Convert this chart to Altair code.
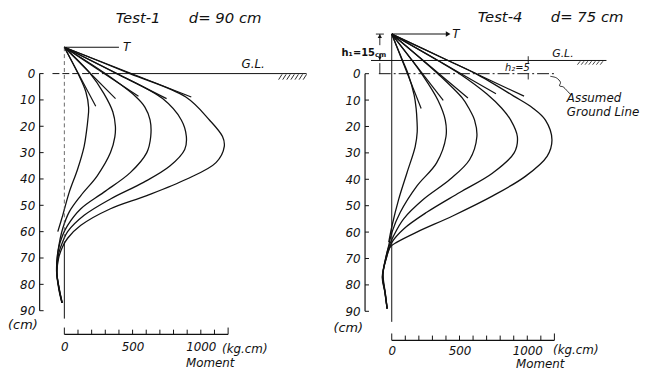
import altair as alt
import pandas as pd

# ---------------- data ----------------
NB = "\u00a0" * 6
T1_TITLE = "Test-1" + NB + "d= 90 cm"
T4_TITLE = "Test-4" + NB + "d= 75 cm"

# Test-1 : depth (cm) / bending moment (kg.cm) along each measured curve
T1_DEPTH = [
    [-10, 0, 7, 13, 17.6, 22, 27.6, 36.3, 45, 53.8, 60],
    [-10, 0, 7.6, 14.5, 20, 24, 30, 38.8, 46.3, 52.5, 58.8, 63, 68, 75, 82, 87],
    [-10, 0, 8.6, 12.7, 17.6, 23.9, 30, 37.6, 45, 51.3, 57.6, 61.3, 67, 75, 82, 87],
    [-10, 0, 9.5, 17.6, 23.9, 28.8, 35.1, 41.3, 47.6, 53.8, 60, 63.8, 68, 75, 82, 87],
    [-10, 0, 8.9, 17.6, 23.9, 27.6, 33.8, 40.1, 46.3, 51.3, 57.6, 62.5, 65.6, 70, 76, 82, 87],
]
T1_MOMENT = [
    [0, 100, 158, 178, 172, 162, 145, 97, 36, -12, -48],
    [0, 190, 290, 355, 374, 370, 338, 241, 121, 36, -12, -32, -48, -57, -40, -18],
    [0, 300, 520, 590, 628, 633, 604, 483, 290, 121, 24, -12, -45, -56, -38, -16],
    [0, 385, 720, 857, 894, 882, 773, 580, 338, 145, 24, -12, -40, -55, -37, -17],
    [0, 480, 890, 1063, 1159, 1172, 1111, 894, 604, 338, 121, 24, -12, -42, -54, -36, -15],
]
T1_TAN_END_D = [12.4, 9.5, 8.6, 9.5, 8.9]
T1_TAN_END_M = [230, 375, 543, 749, 930]

# Test-4
T4_DEPTH = [
    [-15, -5, 0, 8, 13.2, 17.6, 22, 27.6, 37.6, 47.6, 57.6, 63.8],
    [-15, -5, 0, 10, 17.6, 23.9, 33.8, 42.6, 52.5, 60, 65, 70, 76, 83, 89],
    [-15, -5, 0, 9.2, 13.2, 17.6, 23.9, 32.6, 40.1, 47.6, 55, 61.3, 65.6, 70, 76, 83, 89],
    [-15, -5, 0, 7.6, 13, 17.6, 23.9, 30, 37.6, 45, 52.5, 58.8, 63.8, 70, 77, 83, 89],
    [-15, -5, 0, 8.5, 13, 17.6, 25, 31.3, 38.8, 46.3, 53.8, 60, 63.8, 65.6, 70, 77, 83, 89],
]
T4_MOMENT = [
    [0, 80, 120, 165, 180, 186, 188, 173, 112, 51, 2, -22],
    [0, 150, 220, 340, 395, 400, 331, 185, 63, 2, -22, -45, -64, -48, -34],
    [0, 230, 340, 520, 570, 611, 628, 574, 428, 234, 88, 15, -22, -45, -66, -50, -34],
    [0, 340, 500, 700, 810, 878, 927, 903, 745, 501, 258, 88, 2, -42, -68, -48, -34],
    [0, 415, 620, 900, 1040, 1134, 1182, 1146, 988, 745, 453, 185, 39, -10, -40, -70, -50, -34],
]
T4_TAN_END_D = [13.2, 10.1, 9.2, 7.6, 8.5]
T4_TAN_END_M = [217, 380, 562, 769, 976]

DEPTH_TICKS = [0, 10, 20, 30, 40, 50, 60, 70, 80, 90]
MOMENT_LABELS = [0, 500, 1000]
MOMENT_TICKS = list(range(0, 1300, 100))

FONT = "DejaVu Sans"
INK = "#111111"


class Frame:
    """Shared scales and axes of one panel, reused by every layer."""

    def __init__(self, xdom, ydom, label_pad):
        self.xdom, self.ydom = xdom, ydom
        self.xs = alt.Scale(domain=xdom, nice=False, zero=False)
        self.ys = alt.Scale(domain=ydom, reverse=True, nice=False, zero=False)
        self.xaxis = alt.Axis(values=MOMENT_LABELS, format="d", domain=False,
                              ticks=False, grid=False, title=None, labelFont=FONT,
                              labelFontStyle="italic", labelFontSize=12,
                              labelColor=INK, labelPadding=label_pad,
                              labelOverlap=False)
        self.yaxis = alt.Axis(values=DEPTH_TICKS, format="d", domain=False,
                              ticks=False, grid=False, title=None, labelFont=FONT,
                              labelFontStyle="italic", labelFontSize=12,
                              labelColor=INK, labelPadding=5, labelOverlap=False)

    def x(self, f="m"):
        return alt.X(f"{f}:Q", scale=self.xs, axis=self.xaxis)

    def y(self, f="d"):
        return alt.Y(f"{f}:Q", scale=self.ys, axis=self.yaxis)

    def text(self, rows, size=12, align="center", baseline="middle",
             style="italic", weight="normal", dx=0):
        df = pd.DataFrame(rows, columns=["m", "d", "t"])
        return alt.Chart(df).mark_text(
            font=FONT, fontSize=size, fontStyle=style, fontWeight=weight,
            align=align, baseline=baseline, color=INK, dx=dx
        ).encode(x=self.x(), y=self.y(), text="t:N")

    def rules(self, rows, width=1.0, dash=None, color=INK):
        df = pd.DataFrame(rows, columns=["m", "d", "m2", "d2"])
        kw = dict(color=color, strokeWidth=width)
        if dash:
            kw["strokeDash"] = dash
        return alt.Chart(df).mark_rule(**kw).encode(
            x=self.x(), y=self.y(), x2="m2:Q", y2="d2:Q")

    def point(self, m, d, shape, size):
        df = pd.DataFrame({"m": [m], "d": [d]})
        return alt.Chart(df).mark_point(shape=shape, filled=True, size=size,
                                        color=INK, opacity=1).encode(
            x=self.x(), y=self.y())

    def line(self, df, width=1.3, interp="catmull-rom"):
        return alt.Chart(df).mark_line(interpolate=interp, color=INK,
                                       strokeWidth=width).encode(
            x=self.x(), y=self.y(), detail="c:N", order="i:Q")


def panel(fr, depths, moments, tan_d, tan_m, top):
    xmin, ymax = fr.xdom[0], fr.ydom[1]
    rows = []
    for c, (ds, ms) in enumerate(zip(depths, moments)):
        for i, (d, m) in enumerate(zip(ds, ms)):
            rows.append({"c": c, "i": i, "m": m, "d": d})
    curves = fr.line(pd.DataFrame(rows), 1.3)

    trows = []
    for c, (d, m) in enumerate(zip(tan_d, tan_m)):
        trows.append({"c": c, "i": 0, "m": 0, "d": top})
        trows.append({"c": c, "i": 1, "m": m, "d": d})
    tangents = fr.line(pd.DataFrame(trows), 1.2, "linear")

    yline = fr.rules([(xmin, 0, xmin, 90)], 1.2)
    yticks = fr.rules([(xmin, t, xmin + 29, t) for t in DEPTH_TICKS], 1.0)
    xline = fr.rules([(0, ymax, 1200, ymax)], 1.2)
    xticks = fr.rules([(t, ymax, t, ymax - (2.6 if t in (0, 1200) else 1.8))
                       for t in MOMENT_TICKS], 1.0)
    return [curves, tangents, yline, yticks, xline, xticks]


def title(text, dx):
    return alt.TitleParams(text, anchor="start", frame="group", dx=dx,
                           font=FONT, fontStyle="italic", fontSize=15,
                           fontWeight="normal", color=INK, offset=3)


# ---------------- Test-1 panel ----------------
F1 = Frame([-181, 1812], [-17, 99], 7)
L1 = panel(F1, T1_DEPTH, T1_MOMENT, T1_TAN_END_D, T1_TAN_END_M, -10)
L1 += [
    F1.rules([(0, -10, 0, 64)], 0.8, dash=[4, 3], color="#444444"),
    F1.rules([(0, 64, 0, 93)], 1.0),
    F1.rules([(-87, 0, 300, 0)], 1.0, dash=[7, 3]),
    F1.rules([(300, 0, 1775, 0)], 1.0),
    F1.rules([(m, 0.3, m - 25, 2.3) for m in range(1595, 1790, 30)], 0.9),
    F1.rules([(0, -10, 400, -10)], 1.1),
    F1.text([(457, -10, "T")], 12),
    F1.text([(1384, -1, "G.L.")], 12, baseline="bottom"),
    F1.text([(-181, 95.6, "(cm)")], 13, align="right", dx=-2),
    F1.text([(1322, 104.5, "(kg.cm)")], 12),
    F1.text([(1069, 109.8, "Moment")], 12),
]
left = alt.layer(*L1).properties(width=275, height=309, title=title(T1_TITLE, 77))

# ---------------- Test-4 panel ----------------
F4 = Frame([-197, 1620], [-17, 101], 5)
L4 = panel(F4, T4_DEPTH, T4_MOMENT, T4_TAN_END_D, T4_TAN_END_M, -15)
wave_df = pd.DataFrame({"c": 0, "i": list(range(7)),
                        "m": [1170, 1215, 1245, 1238, 1265, 1292, 1322],
                        "d": [1.0, 1.6, 3.3, 4.6, 5.0, 6.4, 8.0]})
L4 += [
    F4.rules([(0, -15, 0, 94)], 1.0),
    F4.rules([(-153, -5, 1584, -5)], 1.0),
    F4.rules([(m, -4.7, m - 20, -3.4) for m in range(1390, 1580, 28)], 0.8),
    F4.rules([(-95, 0, 1197, 0)], 1.0, dash=[12, 3, 2, 3]),
    F4.rules([(1007, -6.6, 1007, -4), (1007, 0, 1007, 2.2)], 0.9),
    F4.rules([(0, -15, 400, -15)], 1.1),
    F4.point(416, -15, "triangle-right", 30),
    F4.rules([(-117, -15, -58, -15), (-88, -15, -88, -10.8), (-88, -7.6, -88, -5),
              (-88, -4, -88, 0)], 0.9),
    F4.point(-88, -14.2, "triangle-up", 18),
    F4.point(-88, -5.8, "triangle-down", 14),
    F4.line(wave_df, 0.9),
    F4.text([(474, -15, "T")], 12),
    F4.text([(1263, -5.6, "G.L.")], 11, baseline="bottom"),
    F4.text([(927, -2.2, "h₂=5")], 10),
    F4.text([(-124, -7.9, "h₁=15")], 10, align="right", style="normal",
            weight="bold"),
    F4.text([(-124, -7.2, "cm")], 7, align="left", style="normal", weight="bold"),
    F4.text([(1292, 9.4, "Assumed"), (1292, 14.6, "Ground Line")], 12,
            align="left"),
    F4.text([(-197, 96.4, "(cm)")], 13, align="right", dx=-2),
    F4.text([(1358, 104.8, "(kg.cm)")], 12),
    F4.text([(1095, 110.1, "Moment")], 12),
]
right = alt.layer(*L4).properties(width=249, height=315, title=title(T4_TITLE, 114))

chart = alt.hconcat(left, right, spacing=22).properties(
    padding=0, background="white"
).configure_view(stroke=None)

chart.save("out.html", embed_options={"renderer": "svg", "actions": False})
